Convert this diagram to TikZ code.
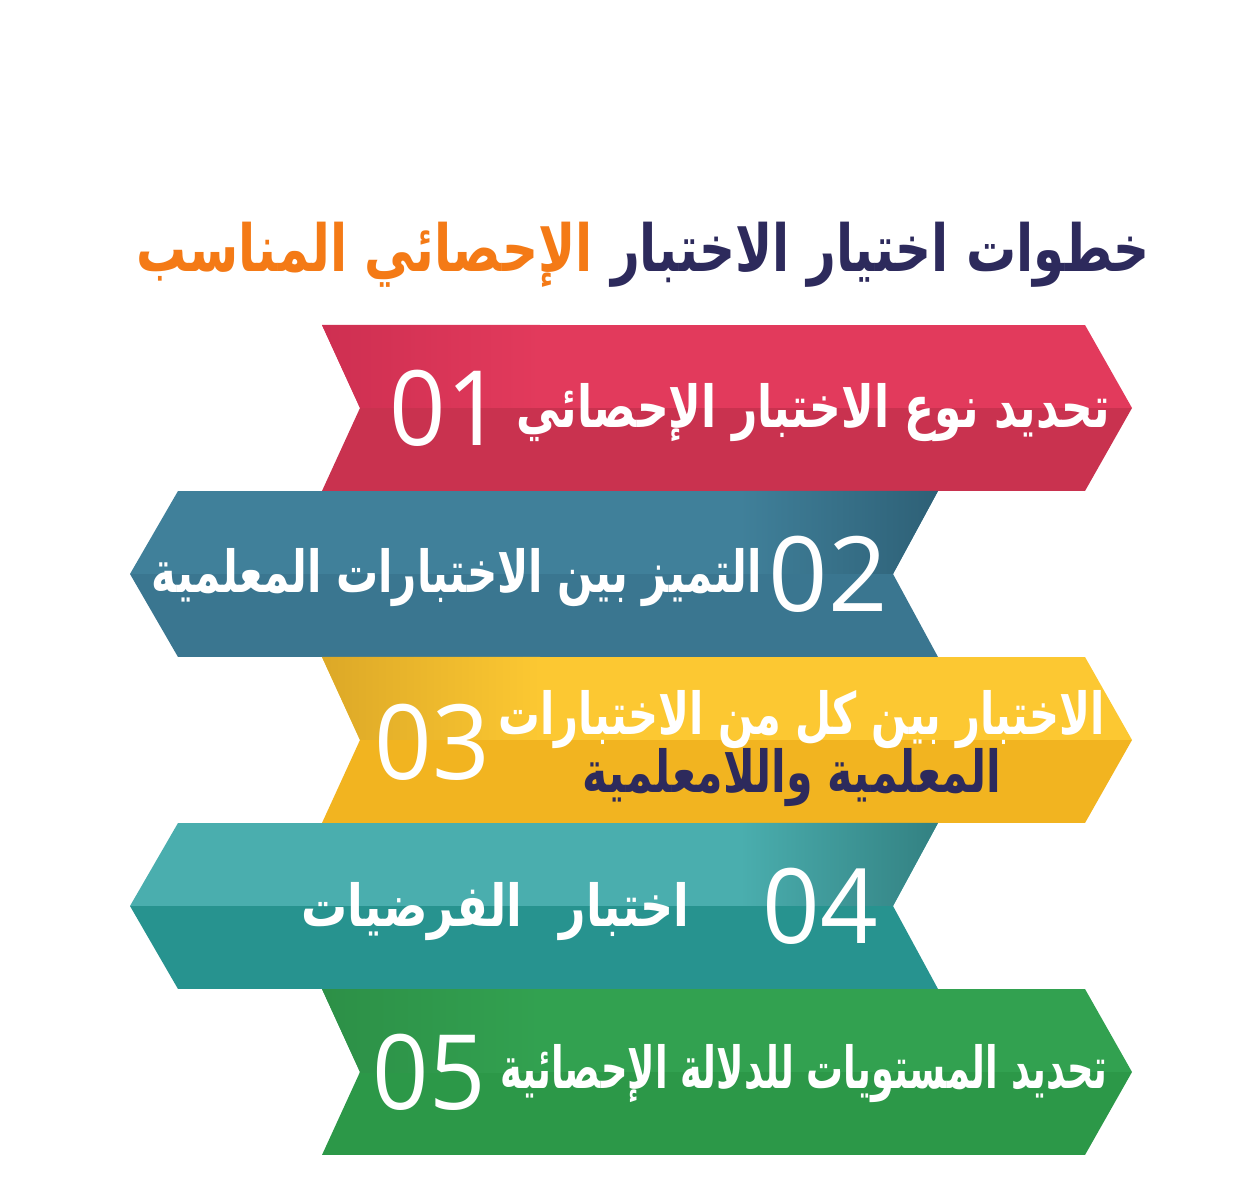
\documentclass[tikz,border=0pt]{standalone}
\usepackage{fontspec}
\TeXXeTstate=1
\newfontfamily\arabicfont[Script=Arabic]{DejaVu Sans}
\newfontfamily\numfont{Open Sans}
\definecolor{navy}{HTML}{2D2A5C}
\definecolor{orng}{HTML}{F47A16}
\definecolor{redT}{HTML}{E23A5C}\definecolor{redB}{HTML}{C9324F}\definecolor{redS}{HTML}{CC2E50}
\definecolor{bluT}{HTML}{40809A}\definecolor{bluB}{HTML}{3A7690}\definecolor{bluS}{HTML}{2D5F75}
\definecolor{yelT}{HTML}{FCC832}\definecolor{yelB}{HTML}{F2B420}\definecolor{yelS}{HTML}{D9A526}
\definecolor{tealT}{HTML}{4AAEAE}\definecolor{tealB}{HTML}{27938F}\definecolor{tealS}{HTML}{327F80}
\definecolor{grnT}{HTML}{32A150}\definecolor{grnB}{HTML}{2C9848}\definecolor{grnS}{HTML}{2C8E46}
\newcommand\RightBanner[5]{%
  \pgfmathsetmacro\bmid{(#1+#2)/2}%
  \begin{scope}
    \clip (322,#1) -- (1085,#1) -- (1132,\bmid) -- (1085,#2) -- (322,#2) -- (360,\bmid) -- cycle;
    \fill[#4] (300,#2) rectangle (1140,\bmid);
    \fill[#3] (300,\bmid) rectangle (1140,#1);
    \shade[left color=#5, right color=#3] (300,\bmid) rectangle (540,#1);
  \end{scope}}
\newcommand\LeftBanner[5]{%
  \pgfmathsetmacro\bmid{(#1+#2)/2}%
  \begin{scope}
    \clip (178,#1) -- (938,#1) -- (893,\bmid) -- (938,#2) -- (178,#2) -- (130,\bmid) -- cycle;
    \fill[#4] (120,#2) rectangle (945,\bmid);
    \fill[#3] (120,\bmid) rectangle (945,#1);
    \shade[left color=#3, right color=#5] (740,\bmid) rectangle (945,#1);
  \end{scope}}
\tikzset{
  btxt/.style={text=white, inner sep=0pt, font=\arabicfont\bfseries\fontsize{40}{48}\selectfont},
  num/.style={text=white, inner sep=0pt, font=\numfont\fontsize{104}{110}\selectfont},
  ttl/.style={inner sep=0pt, font=\arabicfont\bfseries\fontsize{50}{60}\selectfont}
}
\begin{document}
\begin{tikzpicture}[x=1pt,y=1pt]
\useasboundingbox (0,0) rectangle (1234,1200);
\fill[white] (0,0) rectangle (1234,1200);
\RightBanner{875}{709}{redT}{redB}{redS}
\LeftBanner{709}{543}{bluT}{bluB}{bluS}
\RightBanner{543}{377}{yelT}{yelB}{yelS}
\LeftBanner{377}{211}{tealT}{tealB}{tealS}
\RightBanner{211}{45}{grnT}{grnB}{grnS}
\node[ttl, text=navy, anchor=base east] (title1) at (1150,928) {\scalebox{1}[1.3]{\beginR خطوات اختيار الاختبار\endR}};
\node[ttl, text=orng, anchor=base east] (title2) at ([xshift=-18pt]title1.base west) {\scalebox{1}[1.3]{\beginR الإحصائي المناسب\endR}};
\node[btxt, anchor=base east] (t1) at (1110,772) {\scalebox{1.1}[1.45]{\beginR تحديد نوع الاختبار الإحصائي\endR}};
\node[num] (n1) at (446,792) {\scalebox{0.95}[1]{01}};
\node[btxt, anchor=base east] (t2) at (762,607) {\scalebox{1.05}[1.45]{\beginR التميز بين الاختبارات المعلمية\endR}};
\node[num] (n2) at (828,626) {02};
\node[btxt, anchor=base east] (t3a) at (1105,465) {\scalebox{1.04}[1.45]{\beginR الاختبار بين كل من الاختبارات\endR}};
\node[btxt, text=navy, anchor=base] (t3b) at (792,407) {\scalebox{1.07}[1.45]{\beginR المعلمية واللامعلمية\endR}};
\node[num] (n3) at (432,458) {\scalebox{0.97}[1]{03}};
\node[btxt, anchor=base east] (t4) at (690,273) {\scalebox{1.15}[1.45]{\beginR اختبار\hspace{0.8em}الفرضيات\endR}};
\node[num] (n4) at (820,294) {\scalebox{0.97}[1]{04}};
\node[btxt, anchor=base east] (t5) at (1108,112) {\scalebox{0.92}[1.45]{\beginR تحديد المستويات للدلالة الإحصائية\endR}};
\node[num] (n5) at (429,128) {\scalebox{0.95}[1]{05}};
\end{tikzpicture}
\end{document}
